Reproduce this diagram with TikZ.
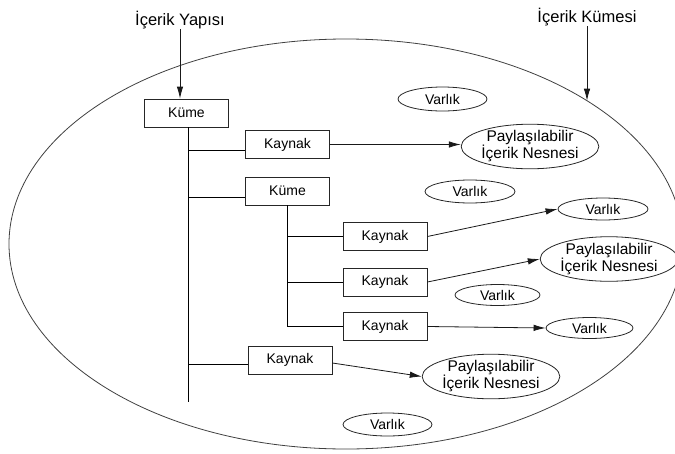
\documentclass[tikz,border=0pt]{standalone}
\usepackage{fontspec}
\setmainfont{Liberation Sans}
\usetikzlibrary{shapes.geometric,arrows.meta}

\tikzset{
  itembox/.style={draw=black!85, line width=0.8pt, fill=white, inner sep=0pt,
    minimum width=84pt, minimum height=28pt,
    font=\fontsize{14}{16}\selectfont},
  itemoval/.style={draw=black!85, line width=0.8pt, ellipse, inner sep=0pt,
    align=center, font=\fontsize{14}{16}\selectfont},
  shareoval/.style={itemoval, minimum width=126pt, minimum height=42pt,
    font=\fontsize{15.5}{17}\selectfont},
  headlabel/.style={font=\fontsize{16.5}{19}\selectfont, inner sep=0pt},
  tree/.style={draw=black, line width=0.9pt},
  link/.style={draw=black!90, line width=0.8pt, -{Latex[length=12pt,width=6.5pt]}},
}

\begin{document}
\begin{tikzpicture}[x=1pt,y=-1pt]
  \useasboundingbox (0,0) rectangle (675,453);

  % the content set
  \draw[black!75, line width=0.8pt] (346,244) ellipse [x radius=337, y radius=205];
  \coordinate (setEdge) at (587,100.7);

  % labels
  \node[headlabel] (structLabel) at (180,20) {İçerik Yapısı};
  \node[headlabel] (setLabel) at (587,17) {İçerik Kümesi};

  % structure boxes
  \node[itembox] (kume1) at (186.5,113) {Küme};
  \node[itembox] (kaynak1) at (287.5,144.5) {Kaynak};
  \node[itembox] (kume2) at (287.5,191) {Küme};
  \node[itembox] (kaynak2a) at (385,236.5) {Kaynak};
  \node[itembox] (kaynak2b) at (385,282) {Kaynak};
  \node[itembox] (kaynak2c) at (385,326.5) {Kaynak};
  \node[itembox] (kaynak3) at (290,360) {Kaynak};

  % assets and shareable objects
  \node[shareoval] (pay1) at (530,146.5) {Paylaşılabilir\\İçerik Nesnesi};
  \node[shareoval] (pay2) at (609,259) {Paylaşılabilir\\İçerik Nesnesi};
  \node[shareoval, minimum width=128pt, minimum height=43pt] (pay3) at (491,376.5) {Paylaşılabilir\\İçerik Nesnesi};
  \node[itemoval, minimum width=89pt, minimum height=24pt] (varlikTop) at (442.5,99) {Varlık};
  \node[itemoval, minimum width=90pt, minimum height=23pt] (varlikA) at (470,191.5) {Varlık};
  \node[itemoval, minimum width=90pt, minimum height=22pt] (varlikB) at (603,209) {Varlık};
  \node[itemoval, minimum width=85pt, minimum height=21pt] (varlikC) at (497.5,295) {Varlık};
  \node[itemoval, minimum width=87pt, minimum height=21pt] (varlikD) at (589.5,328) {Varlık};
  \node[itemoval, minimum width=89pt, minimum height=23pt] (varlikE) at (387.5,424.5) {Varlık};

  % tree trunks
  \coordinate (trunkTop) at ([xshift=1.5pt]kume1.south);
  \coordinate (trunkEnd) at (188,402);
  \draw[tree] (trunkTop) -- (trunkEnd);
  \draw[tree] (kume2.south) -- (kume2.south |- kaynak2c.west);

  % branches
  \draw[tree] ([yshift=-5.5pt]kaynak1.west) -- ([yshift=-5.5pt]kaynak1.west -| trunkEnd);
  \draw[tree] ([yshift=-6pt]kume2.west) -- ([yshift=-6pt]kume2.west -| trunkEnd);
  \draw[tree] ([yshift=-4pt]kaynak3.west) -- ([yshift=-4pt]kaynak3.west -| trunkEnd);
  \draw[tree] (kaynak2a.west) -- (kaynak2a.west -| kume2.south);
  \draw[tree] (kaynak2b.west) -- (kaynak2b.west -| kume2.south);
  \draw[tree] (kaynak2c.west) -- (kaynak2c.west -| kume2.south);

  % references
  \draw[link] (kaynak1.east) -- (kaynak1.east -| pay1.west);
  \draw[link] (kaynak2a.east) -- (varlikB.west);
  \draw[link] (kaynak2b.east) -- (pay2.west);
  \draw[link] (kaynak2c.east) -- (varlikD.west);
  \draw[link] ([yshift=-3pt]kaynak3.east) -- (pay3.west);

  % label pointers
  \draw[link] (structLabel.south) -- (structLabel.south |- kume1.north);
  \draw[link] (setLabel.south) -- (setEdge);
\end{tikzpicture}
\end{document}
